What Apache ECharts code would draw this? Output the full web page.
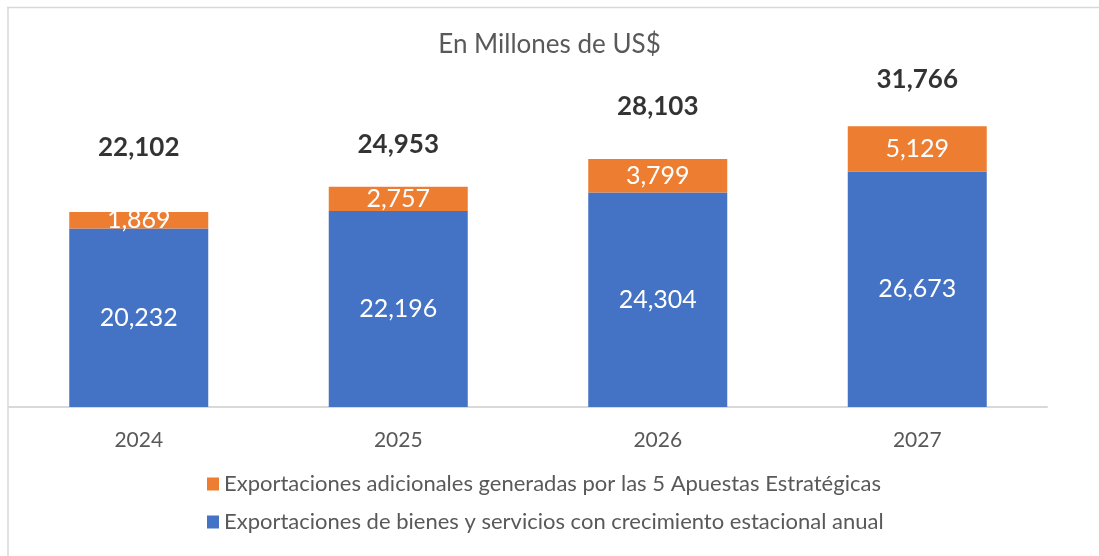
<!DOCTYPE html>
<html>
<head>
<meta charset="utf-8">
<script src="https://cdn.jsdelivr.net/npm/echarts@6/dist/echarts.min.js"></script>
<style>
html,body{margin:0;padding:0;background:#fff;}
#chart{width:1099px;height:556px;}
</style>
</head>
<body>
<div id="chart"></div>
<script>
const categories = ['2024', '2025', '2026', '2027'];
const baseExports = [20232, 22196, 24304, 26673];
const additionalExports = [1869, 2757, 3799, 5129];
const totals = [22102, 24953, 28103, 31766];
const seriesNames = [
  'Exportaciones de bienes y servicios con crecimiento estacional anual',
  'Exportaciones adicionales generadas por las 5 Apuestas Estratégicas'
];
const subtitleText = 'En Millones de US$';

// layout: how far above each bar's top the total text sits (px)
const totalLabelLift = [64, 42, 52, 47];

const fmt = v => Number(v).toLocaleString('en-US');
const FONT = 'Lato';
const GRAY = '#595959';

const chart = echarts.init(document.getElementById('chart'));
chart.setOption({
  animation: false,
  backgroundColor: '#ffffff',
  title: {
    text: subtitleText,
    left: 'center',
    top: 27,
    textStyle: { fontFamily: FONT, fontSize: 26, fontWeight: 'normal', color: GRAY }
  },
  grid: { left: 9, width: 1038, top: 54, height: 353 },
  xAxis: {
    type: 'category',
    data: categories,
    axisLine: { lineStyle: { color: '#d9d9d9', width: 2 } },
    axisTick: { show: false },
    axisLabel: { fontFamily: FONT, fontSize: 21, color: GRAY, margin: 23 }
  },
  yAxis: {
    type: 'value',
    min: 0,
    max: 40000,
    show: false,
    splitLine: { show: false }
  },
  legend: {
    orient: 'vertical',
    left: 202,
    top: 468,
    itemGap: 16,
    itemWidth: 12,
    itemHeight: 13,
    icon: 'rect',
    data: [seriesNames[1], seriesNames[0]],
    textStyle: { fontFamily: FONT, fontSize: 22, color: GRAY }
  },
  graphic: [
    { type: 'line', shape: { x1: 7, y1: 7.5, x2: 1099, y2: 7.5 }, style: { stroke: '#d9d9d9', lineWidth: 1.5 }, silent: true },
    { type: 'line', shape: { x1: 8, y1: 7, x2: 8, y2: 556 }, style: { stroke: '#d9d9d9', lineWidth: 1.5 }, silent: true }
  ],
  series: [
    {
      name: seriesNames[0],
      type: 'bar',
      stack: 'total',
      barWidth: 139,
      data: baseExports,
      itemStyle: { color: '#4472C4' },
      label: {
        show: true, position: 'inside', formatter: p => fmt(p.value),
        fontFamily: FONT, fontSize: 25, color: '#ffffff'
      }
    },
    {
      name: seriesNames[1],
      type: 'bar',
      stack: 'total',
      barWidth: 139,
      data: additionalExports,
      itemStyle: { color: '#ED7D31' },
      label: {
        show: true, position: 'inside', formatter: p => fmt(p.value),
        fontFamily: FONT, fontSize: 25, color: '#ffffff'
      }
    },
    {
      name: 'Total',
      type: 'scatter',
      symbolSize: 0,
      silent: true,
      data: totals.map((v, i) => ({
        value: v,
        label: { offset: [0, -totalLabelLift[i]] }
      })),
      label: {
        show: true, position: 'inside', formatter: p => fmt(p.value),
        fontFamily: FONT, fontSize: 26, fontWeight: 'bold', color: '#000000'
      }
    }
  ]
});
</script>
</body>
</html>
